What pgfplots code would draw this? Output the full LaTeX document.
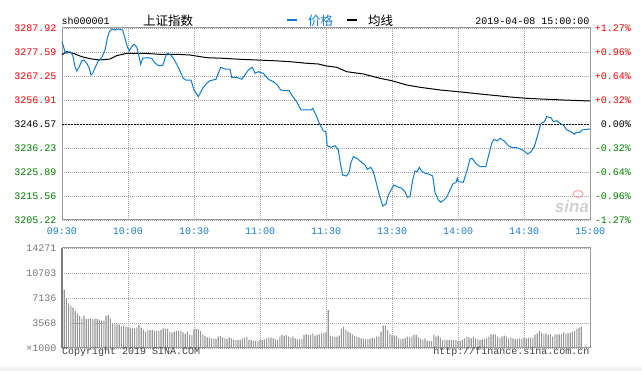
\documentclass[border=0pt]{standalone}
\usepackage{fontspec}
\setmainfont{Liberation Mono}
\newfontfamily\cjk{Noto Sans CJK SC}
\newfontfamily\wmfont{Liberation Sans}
\usepackage{pgfplots}
\pgfplotsset{compat=1.18}
\usepackage{pgfplotstable}
\definecolor{pblue}{RGB}{18,124,204}
\definecolor{tblue}{RGB}{25,125,205}
\definecolor{gridgray}{RGB}{165,165,165}
\definecolor{framegray}{RGB}{155,155,155}
\definecolor{upred}{RGB}{255,0,0}
\definecolor{dngreen}{RGB}{0,128,0}
\definecolor{volgray}{RGB}{150,150,150}
\definecolor{labgray}{RGB}{120,120,120}
\definecolor{botgray}{RGB}{242,242,242}

\pgfplotstableread{
t p
0 3282.00
1.36 3277.71
2.14 3277.02
3.64 3277.71
4.86 3276.29
5.91 3271.25
6.68 3269.40
7.86 3271.25
8.95 3273.71
10.0 3274.14
11.23 3272.72
12.41 3270.56
13.18 3267.68
13.95 3268.41
15.0 3270.82
16.5 3273.71
18.05 3275.13
19.55 3278.44
20.59 3283.48
21.5 3286.33
22.59 3287.49
24.09 3287.06
25.59 3287.49
27.59 3287.06
28.64 3283.48
29.68 3279.87
30.59 3278.01
31.68 3279.87
32.73 3280.90
33.95 3279.87
34.68 3277.02
35.77 3272.29
36.68 3274.87
38.5 3275.13
40.77 3274.87
41.95 3273.15
43.77 3271.68
45.77 3271.68
46.82 3274.87
47.86 3277.02
49.09 3276.59
50.59 3274.87
52.14 3272.29
53.64 3269.40
55.14 3266.26
56.36 3265.52
58.64 3265.52
60.0 3261.22
61.95 3258.33
63.95 3261.95
65.77 3264.10
67.27 3265.22
70.0 3265.83
72.14 3270.99
74.09 3270.26
76.36 3270.13
77.14 3266.69
79.41 3266.69
81.68 3265.83
83.18 3267.68
84.68 3269.83
86.5 3270.99
87.73 3268.41
89.23 3269.10
91.5 3268.41
93.77 3265.83
96.05 3264.79
97.86 3263.37
99.41 3261.22
101.36 3260.92
103.32 3260.92
104.41 3259.06
106.36 3256.61
108.64 3252.60
113.18 3252.60
113.95 3253.34
115.45 3250.45
116.95 3246.87
118.77 3243.69
119.86 3243.26
120.59 3237.10
122.59 3236.54
124.09 3237.23
125.59 3235.37
126.68 3228.91
127.59 3224.61
129.41 3224.18
130.59 3226.03
131.23 3229.65
132.41 3232.49
133.95 3231.80
136.23 3230.08
137.73 3228.91
138.77 3227.06
140.32 3227.92
141.5 3226.03
142.73 3221.72
144.23 3215.99
145.77 3211.26
147.27 3212.12
148.32 3215.99
149.55 3218.15
150.91 3220.30
152.41 3219.57
154.41 3218.88
155.91 3217.41
156.95 3215.00
158.18 3215.26
159.41 3222.45
160.45 3226.33
161.5 3226.03
162.41 3227.92
163.5 3226.33
165.0 3225.34
166.95 3224.91
168.5 3224.18
169.55 3216.98
171.05 3213.84
172.14 3212.85
173.64 3213.84
174.86 3215.00
176.68 3218.88
177.86 3221.03
179.09 3221.29
179.68 3223.19
180.14 3221.72
182.41 3221.46
183.95 3226.03
185.45 3231.50
186.5 3231.80
188.05 3229.65
190.0 3228.18
192.59 3228.18
193.77 3232.49
195.32 3238.26
196.36 3239.98
197.86 3239.25
199.09 3240.41
201.05 3239.25
202.59 3237.53
204.09 3236.54
206.68 3236.36
208.64 3235.68
210.45 3234.64
211.68 3233.65
213.18 3234.64
214.68 3236.80
216.23 3241.84
217.73 3246.87
219.23 3247.56
220.32 3249.72
222.27 3249.29
223.32 3247.56
224.86 3247.99
226.36 3246.87
227.86 3246.14
229.41 3243.99
231.36 3243.26
232.86 3242.14
233.95 3243.00
235.45 3243.00
236.23 3243.99
240 3244.42
}\pricetable

\pgfplotstableread{
t p
0 3276.42
2.14 3277.71
5.14 3277.02
8.95 3275.56
13.5 3274.57
17.27 3274.14
21.82 3274.57
24.86 3275.99
29.41 3277.02
36.95 3277.02
44.55 3276.59
52.14 3276.59
58.18 3276.29
65.77 3275.13
73.32 3274.87
80.91 3274.44
88.5 3274.14
96.05 3273.84
103.64 3273.41
111.23 3272.72
116.5 3272.42
120.32 3271.55
124.86 3270.99
129.41 3269.10
136.95 3268.11
144.55 3266.26
149.86 3265.22
156.68 3263.37
162.73 3262.38
171.82 3261.22
180.14 3260.48
190 3259.49
199.09 3258.63
205.14 3258.07
211.23 3257.64
217.27 3257.34
227.86 3256.91
240 3256.48
}\avgtable

\pgfplotstableread{
t v
1 8277
2 7088
3 6374
4 6041
5 5756
6 5280
7 4947
8 4567
9 4234
10 4614
11 4139
12 4139
13 4234
14 4139
15 4139
16 4139
17 3996
18 3901
19 3901
20 4567
21 4710
22 4234
23 3520
24 3377
25 3377
26 3377
27 3044
28 3187
29 3044
30 2997
31 2902
32 2807
33 2807
34 2949
35 3282
36 2902
37 2569
38 2331
39 2569
40 2569
41 2569
42 2426
43 2426
44 2426
45 2569
46 2807
47 2712
48 2712
49 2331
50 2188
51 2331
52 2426
53 2426
54 2426
55 2236
56 1998
57 2331
58 1855
59 1855
60 2712
61 2712
62 2664
63 2426
64 1950
65 1712
66 1522
67 1475
68 1380
69 1380
70 1284
71 1617
72 1712
73 1522
74 1380
75 1284
76 1522
77 1380
78 1142
79 1142
80 1142
81 1142
82 1380
83 1475
84 1570
85 1142
86 1142
87 999
88 999
89 999
90 1142
91 1142
92 1237
93 1380
94 1475
95 1475
96 1380
97 1237
98 1142
99 1617
100 1855
101 1760
102 1855
103 1617
104 1475
105 1617
106 1380
107 1237
108 1237
109 1284
110 1855
111 1950
112 1855
113 1855
114 2093
115 1760
116 1855
117 1950
118 2093
119 2188
120 2236
121 5423
122 1760
123 1617
124 1617
125 1617
126 1760
127 2712
128 3044
129 2569
130 2331
131 2188
132 1950
133 1760
134 1617
135 1522
136 1380
137 1284
138 1284
139 1284
140 1284
141 1475
142 1380
143 1617
144 1617
145 2331
146 3187
147 3187
148 2569
149 2093
150 1855
151 1760
152 1760
153 1380
154 1284
155 1284
156 1380
157 1617
158 1522
159 1617
160 1855
161 1855
162 1522
163 1284
164 1142
165 1380
166 999
167 999
168 999
169 1950
170 1617
171 1760
172 1475
173 1142
174 1142
175 1142
176 1142
177 1142
178 1142
179 1142
180 999
181 999
182 1142
183 1380
184 1617
185 1522
186 1380
187 1617
188 1380
189 1237
190 1142
191 1237
192 1284
193 1380
194 1617
195 1950
196 1950
197 1950
198 1617
199 1380
200 1617
201 1760
202 1617
203 1380
204 1522
205 1380
206 1284
207 1284
208 1380
209 1284
210 1475
211 1380
212 1475
213 1475
214 1475
215 1855
216 2093
217 2426
218 2236
219 1950
220 2093
221 1855
222 1950
223 1617
224 1855
225 1950
226 1950
227 1950
228 2236
229 2093
230 2093
231 2188
232 2331
233 2426
234 2712
235 2902
236 3044
238 285
}\voltable

\begin{document}
\begin{tikzpicture}
\useasboundingbox (0pt,0pt) rectangle (642pt,371pt);
\fill[white] (0pt,0pt) rectangle (642pt,371pt);
\fill[botgray] (0pt,0pt) rectangle (642pt,4pt);

% header
\node[anchor=base west, inner sep=0pt] at (61.5pt,346pt) {sh000001};
\node[anchor=base west, inner sep=0pt, font=\cjk\fontsize{12.5}{14}\selectfont] at (143pt,345.5pt) {上证指数};
\fill[pblue] (287pt,349.5pt) rectangle (297pt,352pt);
\node[anchor=base west, inner sep=0pt, text=pblue, font=\cjk\fontsize{12.5}{14}\selectfont] at (308pt,345.5pt) {价格};
\fill[black] (347pt,349.5pt) rectangle (357pt,352pt);
\node[anchor=base west, inner sep=0pt, font=\cjk\fontsize{12.5}{14}\selectfont] at (368pt,345.5pt) {均线};
\node[anchor=base east, inner sep=0pt] at (589.5pt,346pt) {2019-04-08 15:00:00};

% watermark
\node[text=black!18, font=\wmfont\bfseries\itshape\fontsize{17}{18}\selectfont, inner sep=0pt] at (572pt,165pt) {sina};
\draw[red!30, line width=1.2pt] (578pt,177pt) ellipse (5pt and 3.5pt);

% price axis
\begin{axis}[
  at={(62pt,151pt)}, anchor=south west,
  scale only axis, width=528pt, height=192pt,
  xmin=0, xmax=240, ymin=3205.22, ymax=3287.92,
  axis line style={framegray, line width=1pt},
  xtick={0,30,60,90,120,150,180,210,240},
  xticklabels={09:30,10:00,10:30,11:00,11:30,13:30,14:00,14:30,15:00},
  ytick={3205.22,3215.56,3225.89,3236.23,3246.57,3256.91,3267.25,3277.59,3287.92},
  yticklabels={\textcolor{dngreen}{3205.22},\textcolor{dngreen}{3215.56},\textcolor{dngreen}{3225.89},\textcolor{dngreen}{3236.23},\textcolor{black}{3246.57},\textcolor{upred}{3256.91},\textcolor{upred}{3267.25},\textcolor{upred}{3277.59},\textcolor{upred}{3287.92}},
  major tick length=0pt,
  grid=major,
  major grid style={gridgray, line width=0.7pt, dash pattern=on 1pt off 1pt},
  xticklabel style={text=tblue, yshift=-4pt},
  yticklabel style={xshift=-2pt},
  clip=false,
  axis on top=false,
]
\draw[white, line width=1pt] (axis cs:0,3246.57) -- (axis cs:240,3246.57);
\draw[black, line width=0.9pt, dash pattern=on 2pt off 1pt] (axis cs:0,3246.57) -- (axis cs:240,3246.57);
\addplot[black, line width=1pt] table[x=t,y=p] {\avgtable};
\addplot[pblue, line width=1pt] table[x=t,y=p] {\pricetable};
\end{axis}

% percent labels on the right
\begin{axis}[
  at={(62pt,151pt)}, anchor=south west,
  scale only axis, width=528pt, height=192pt,
  xmin=0, xmax=240, ymin=3205.22, ymax=3287.92,
  hide x axis,
  axis y line*=right,
  y axis line style={draw=none},
  major tick length=0pt,
  ytick={3205.22,3215.56,3225.89,3236.23,3246.57,3256.91,3267.25,3277.59,3287.92},
  yticklabels={\textcolor{dngreen}{-1.27\%},\textcolor{dngreen}{-0.96\%},\textcolor{dngreen}{-0.64\%},\textcolor{dngreen}{-0.32\%},\textcolor{black}{0.00\%},\textcolor{upred}{+0.32\%},\textcolor{upred}{+0.64\%},\textcolor{upred}{+0.96\%},\textcolor{upred}{+1.27\%}},
  yticklabel style={anchor=east, xshift=44.3pt},
]
\addplot[draw=none] coordinates {(0,3246.57)};
\end{axis}

% volume axis
\begin{axis}[
  at={(62pt,23pt)}, anchor=south west,
  scale only axis, width=528pt, height=100pt,
  xmin=0, xmax=240, ymin=0, ymax=14271,
  axis line style={framegray, line width=1pt},
  xtick={0,30,60,90,120,150,180,210,240},
  xticklabels={},
  ytick={0,3568,7136,10703,14271},
  yticklabels={×1000,3568,7136,10703,14271},
  scaled y ticks=false,
  major tick length=0pt,
  grid=major,
  major grid style={gridgray, line width=0.7pt, dash pattern=on 1pt off 1pt},
  yticklabel style={text=labgray, xshift=-2pt},
  ybar, bar width=1.1pt, bar shift=0pt,
  clip=false,
]
\addplot[fill=volgray, draw=none] table[x=t,y=v] {\voltable};
\draw[framegray!80!black, line width=2pt] (axis cs:0,0) ++(-0.5pt,0) -- ++(0,100pt);
\end{axis}

\node[anchor=base west, inner sep=0pt, text=black!75] at (62pt,16pt) {Copyright 2019 SINA.COM};
\node[anchor=base east, inner sep=0pt, text=black!75] at (589.5pt,16pt) {http://finance.sina.com.cn};
\end{tikzpicture}
\end{document}
